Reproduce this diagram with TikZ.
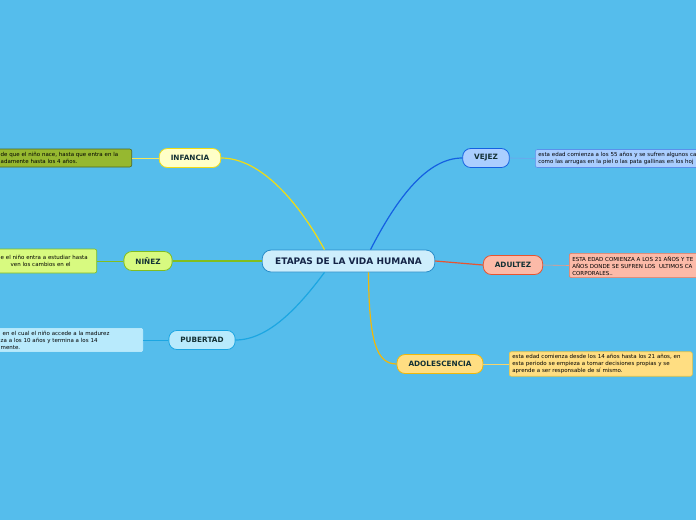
\documentclass[tikz,border=0pt]{standalone}
\usepackage{fontspec}
\setmainfont{DejaVu Sans}
\usetikzlibrary{positioning,calc}
\definecolor{bg}{RGB}{85,189,236}
\definecolor{ink}{RGB}{18,48,52}
\definecolor{inkc}{RGB}{20,36,70}
\definecolor{yelF}{RGB}{255,255,200}
\definecolor{yelD}{RGB}{240,220,20}
\definecolor{grnF}{RGB}{216,250,128}
\definecolor{grnD}{RGB}{130,190,30}
\definecolor{oliF}{RGB}{150,184,48}
\definecolor{oliD}{RGB}{80,104,30}
\definecolor{cyaF}{RGB}{184,234,252}
\definecolor{cyaD}{RGB}{28,166,226}
\definecolor{bluF}{RGB}{170,206,255}
\definecolor{bluD}{RGB}{20,96,226}
\definecolor{redF}{RGB}{252,186,168}
\definecolor{redD}{RGB}{232,84,48}
\definecolor{orgF}{RGB}{255,222,130}
\definecolor{orgD}{RGB}{240,184,10}
\definecolor{cenF}{RGB}{206,238,252}
\definecolor{cenD}{RGB}{40,140,200}

\begin{document}
\begin{tikzpicture}[
    x=1pt, y=-1pt,
    topic/.style={rectangle, rounded corners=8pt, draw, line width=0.8pt, text=ink,
        font=\bfseries\fontsize{7.3}{9}\selectfont, minimum height=19pt, inner xsep=11.5pt},
    note/.style={rectangle, rounded corners=2pt, draw, line width=0.6pt, text=black,
        font=\fontsize{5.5}{7}\selectfont, align=left, inner xsep=3pt, inner ysep=2.5pt},
    branch/.style={line width=1.2pt},
    twig/.style={line width=0.6pt}
]
    \useasboundingbox[fill=bg] (0,0) rectangle (696,520);

    \node[topic, fill=cenF, draw=cenD, text=inkc, rounded corners=9pt, minimum height=22pt,
        inner xsep=13pt, font=\bfseries\fontsize{9}{11}\selectfont] (vida) at (348.5,261) {ETAPAS DE LA VIDA HUMANA};

    % etapas
    \node[topic, fill=yelF, draw=yelD] (infancia) at (190,158) {INFANCIA};
    \node[topic, fill=grnF, draw=grnD] (ninez) at (148,261) {NIÑEZ};
    \node[topic, fill=cyaF, draw=cyaD] (pubertad) at (202,340) {PUBERTAD};
    \node[topic, fill=bluF, draw=bluD] (vejez) at (486,158) {VEJEZ};
    \node[topic, fill=redF, draw=redD] (adultez) at (513,265) {ADULTEZ};
    \node[topic, fill=orgF, draw=orgD] (adolescencia) at (440,364) {ADOLESCENCIA};

    % notas
    \node[note, fill=oliF, draw=oliD, anchor=east, text width=128pt, minimum height=18pt] (nInfancia) at (132,158)
        {de que el niño nace, hasta que entra en la\\adamente hasta los 4 años.};
    \node[note, fill=grnF, draw=grnD, anchor=east, text width=93pt, minimum height=24pt] (nNinez) at (97,261)
        {e el niño entra a estudiar hasta\\\hspace*{10pt}ven los cambios en el};
    \node[note, fill=cyaF, draw=cyaF!80!white, anchor=east, text width=139pt] (nPubertad) at (143,340)
        {\hspace*{2pt}en el cual el niño accede a la madurez\\za a los 10 años y termina a los 14\\mente.};
    \node[note, fill=bluF, draw=bluD!70!white, anchor=west, text width=200pt, minimum height=18pt] (nVejez) at (535,158.5)
        {esta edad comienza a los 55 años y se sufren algunos ca\\como las arrugas en la piel o las pata gallinas en los hoj};
    \node[note, fill=redF, draw=redD!80!white, anchor=west, text width=200pt] (nAdultez) at (569,265.5)
        {ESTA EDAD COMIENZA A LOS 21 AÑOS Y TE\\AÑOS DONDE SE SUFREN LOS\ \ ULTIMOS CA\\CORPORALES..};
    \node[note, fill=orgF, draw=orgD!80!white, anchor=west, text width=177pt] (nAdolescencia) at (509,364)
        {esta edad comienza desde los 14 años hasta los 21 años, en\\esta periodo se empieza a tomar decisiones propias y se\\aprende a ser responsable de sí mismo.};

    % ramas
    \draw[branch, yelD] ($(vida.north)+(-24,0)$) .. controls (300,205) and (262,158) .. (infancia.east);
    \draw[branch, grnD] (vida.west) -- (ninez.east);
    \draw[branch, cyaD] ($(vida.south)+(-24,0)$) .. controls (298,308) and (268,340) .. (pubertad.east);
    \draw[branch, bluD] ($(vida.north)+(22,0)$) .. controls (398,196) and (428,158) .. (vejez.west);
    \draw[branch, redD] (vida.east) -- (adultez.west);
    \draw[branch, orgD] ($(vida.south)+(20,0)$) .. controls (369,340) and (376,364) .. (adolescencia.west);

    \draw[twig, yelD!70!white] (infancia.west) -- (nInfancia.east);
    \draw[twig, grnD] (ninez.west) -- (nNinez.east);
    \draw[twig, cyaD] (pubertad.west) -- (nPubertad.east);
    \draw[twig, bluD!60!white] (vejez.east) -- (nVejez.west);
    \draw[twig, redD!60!white] (adultez.east) -- (nAdultez.west);
    \draw[twig, orgD!60!white] (adolescencia.east) -- (nAdolescencia.west);

\end{tikzpicture}
\end{document}
